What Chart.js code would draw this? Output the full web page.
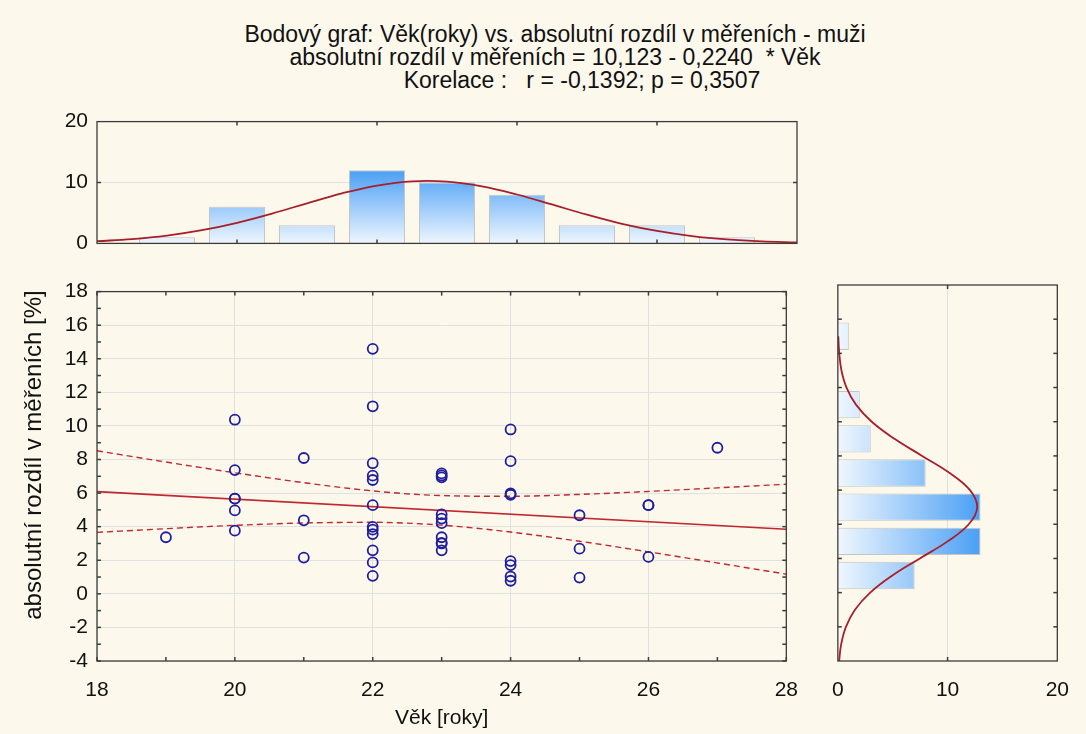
<!DOCTYPE html>
<html><head><meta charset="utf-8">
<script src="https://cdn.jsdelivr.net/npm/chart.js@4/dist/chart.umd.min.js"></script>
<style>
html,body{margin:0;padding:0}
body{background:#fdf8ec;width:1086px;height:734px;overflow:hidden;position:relative;font-family:"Liberation Sans",Arial,sans-serif}
.t{position:absolute;width:1000px;text-align:center;font-size:23px;line-height:23px;color:#111;white-space:pre}
.yt{position:absolute;left:33px;top:455px;width:400px;margin-left:-200px;margin-top:-13px;text-align:center;font-size:24px;line-height:26px;color:#111;white-space:pre;transform:rotate(-90deg);transform-origin:50% 50%}
canvas{position:absolute}
</style></head><body>
<div class="t" style="left:55px;top:23px">Bodový graf: Věk(roky) vs. absolutní rozdíl v měřeních - muži</div>
<div class="t" style="left:55px;top:46px">absolutní rozdíl v měřeních = 10,123 - 0,2240  * Věk</div>
<div class="t" style="left:82px;top:69px">Korelace :   r = -0,1392; p = 0,3507</div>
<canvas id="top" width="815" height="165" style="left:0;top:100px"></canvas>
<canvas id="main" width="815" height="464" style="left:0;top:270px"></canvas>
<canvas id="right" width="271" height="464" style="left:815px;top:270px"></canvas>
<div class="yt">absolutní rozdíl v měřeních [%]</div>
<script>
// ---- data ----
const ages  = [19, 20,20,20,20,20,20, 21,21,21,
  22,22,22,22,22,22,22,22,22,22,22,22,
  23,23,23,23,23,23,23,23,23,23,
  24,24,24,24,24,24,24,24, 25,25,25, 26,26,26, 27];
const diffs = [3.37, 10.37,7.37,5.67,5.67,4.97,3.76, 8.09,4.38,2.16,
  14.59,11.17,7.78,7.04,6.78,5.28,3.99,3.82,3.56,2.59,1.87,1.07,
  7.17,7.05,6.94,4.73,4.48,4.21,3.37,3.04,3.00,2.59,
  9.79,7.90,5.98,5.90,1.95,1.71,1.03,0.78, 4.68,2.69,0.97, 5.28,5.28,2.20, 8.70];

const regX = [18, 28];
const regY = [6.09, 3.85];
const ciX     = [18, 19, 20, 21, 22, 23, 24, 25, 26, 27, 28];
const ciUpper = [8.52, 7.85, 7.21, 6.62, 6.13, 5.85, 5.81, 5.92, 6.10, 6.31, 6.53];
const ciLower = [3.66, 3.88, 4.08, 4.22, 4.26, 4.09, 3.68, 3.13, 2.50, 1.84, 1.17];

const ageBins   = [19, 20, 21, 22, 23, 24, 25, 26, 27];
const ageCounts = [1, 6, 3, 12, 10, 8, 3, 3, 1];
const ageCurveX = [18,18.5,19,19.5,20,20.5,21,21.5,22,22.5,23,23.5,24,24.5,25,25.5,26,26.5,27,27.5,28];
const ageCurveY = [0.36,0.71,1.29,2.17,3.39,4.90,6.59,8.22,9.50,10.20,10.15,9.37,8.03,6.39,4.71,3.22,2.05,1.21,0.66,0.33,0.16];

const diffBins   = [1, 3, 5, 7, 9, 11, 13, 15];
const diffCounts = [7, 13, 13, 8, 3, 2, 0, 1];
const diffCurveY = [-4,-3,-2,-1,0,1,2,3,4,5,6,7,8,9,10,11,12,13,14,15];
const diffCurveX = [0.12,0.31,0.74,1.56,2.95,4.97,7.47,10.0,11.93,12.70,12.04,10.19,7.68,5.16,3.09,1.65,0.79,0.33,0.13,0.04];

// ---- styles ----
Chart.defaults.font.family = '"Liberation Sans", Arial, sans-serif';
Chart.defaults.color = '#111';
const FONT = {size: 21};
const GRID = '#e1e1e1';
const FRAME = '#3c3c3c';
const DOT = '#1f1f9e';
const RED = '#c0272e';
const CURVE = '#a81f2b';

const framePlugin = {
  id: 'frame',
  afterDatasetsDraw(chart, args, opts) {
    const {ctx, chartArea: a} = chart;
    ctx.save();
    ctx.strokeStyle = FRAME;
    ctx.lineWidth = 1.3;
    ctx.strokeRect(a.left, a.top, a.right - a.left, a.bottom - a.top);
    ctx.lineWidth = 1.5;
    (opts.marks || []).forEach(m => {
      const s = chart.scales[m.scale];
      m.values.forEach(v => {
        const p = s.getPixelForValue(v);
        m.sides.forEach(side => {
          ctx.beginPath();
          if (side === 'bottom') { ctx.moveTo(p, a.bottom); ctx.lineTo(p, a.bottom - m.len); }
          if (side === 'top') { ctx.moveTo(p, a.top); ctx.lineTo(p, a.top + m.len); }
          if (side === 'left') { ctx.moveTo(a.left, p); ctx.lineTo(a.left + m.len, p); }
          if (side === 'right') { ctx.moveTo(a.right, p); ctx.lineTo(a.right - m.len, p); }
          ctx.stroke();
        });
      });
    });
    ctx.restore();
  }
};

const pts = (xs, ys) => xs.map((x, i) => ({x: x, y: ys[i]}));
const evenGrid = c => (Math.round(c.tick.value) % 2 === 0 ? GRID : 'rgba(0,0,0,0)');
const evenLabel = v => (Math.round(v) % 2 === 0 ? String(v) : '');
const ints = (a, b) => { const r = []; for (let i = a; i <= b; i++) r.push(i); return r; };

// ---- main scatter ----
new Chart(document.getElementById('main'), {
  data: {
    datasets: [
      {type: 'scatter', data: pts(ages, diffs), pointRadius: 5, pointBorderWidth: 1.8,
       borderColor: DOT, backgroundColor: 'rgba(0,0,0,0)', pointBackgroundColor: 'rgba(0,0,0,0)', order: 0},
      {type: 'line', data: pts(regX, regY), borderColor: RED, borderWidth: 1.6, pointRadius: 0, order: 1},
      {type: 'line', data: pts(ciX, ciUpper), borderColor: RED, borderWidth: 1.4, borderDash: [6, 4],
       pointRadius: 0, tension: 0.4, cubicInterpolationMode: 'monotone', order: 1},
      {type: 'line', data: pts(ciX, ciLower), borderColor: RED, borderWidth: 1.4, borderDash: [6, 4],
       pointRadius: 0, tension: 0.4, cubicInterpolationMode: 'monotone', order: 1}
    ]
  },
  options: {
    responsive: false, animation: false,
    layout: {padding: {top: 15, right: 18, left: 0, bottom: 0}},
    plugins: {legend: {display: false}, tooltip: {enabled: false},
      frame: {marks: [
        {scale: 'x', values: ints(18, 28), sides: ['bottom', 'top'], len: 4},
        {scale: 'y', values: ints(-4, 18), sides: ['left', 'right'], len: 4}
      ]}},
    scales: {
      x: {type: 'linear', min: 18, max: 28, afterFit: s => { s.height = 73; },
        border: {display: false},
        grid: {color: evenGrid, drawTicks: false},
        ticks: {stepSize: 1, font: FONT, padding: 17, callback: evenLabel, maxRotation: 0, autoSkip: false},
        title: {display: true, text: 'Věk [roky]', font: {size: 21}, padding: {top: 0, bottom: 3}}},
      y: {type: 'linear', min: -4, max: 18, afterFit: s => { s.width = 97; },
        border: {display: false},
        grid: {color: evenGrid, drawTicks: false},
        ticks: {stepSize: 1, font: FONT, padding: 9, callback: evenLabel, autoSkip: false}}
    }
  },
  plugins: [framePlugin]
});

// ---- top histogram ----
const topGrad = c => {
  const ch = c.chart, a = ch.chartArea;
  if (!a) return '#9cc8f5';
  const ys = ch.scales.y;
  const g = ch.ctx.createLinearGradient(0, ys.getPixelForValue(0), 0, ys.getPixelForValue(12));
  g.addColorStop(0, '#eef6fe');
  g.addColorStop(1, '#4a9ff5');
  return g;
};
new Chart(document.getElementById('top'), {
  data: {
    datasets: [
      {type: 'line', data: pts(ageCurveX, ageCurveY), borderColor: CURVE, borderWidth: 1.8, pointRadius: 0, tension: 0.4, order: 0},
      {type: 'bar', data: pts(ageBins, ageCounts), backgroundColor: topGrad,
       borderColor: 'rgba(70,80,100,0.3)', borderWidth: 1, barPercentage: 0.8, categoryPercentage: 1, order: 1}
    ]
  },
  options: {
    responsive: false, animation: false,
    layout: {padding: {top: 20, right: 18, left: 0, bottom: 21}},
    plugins: {legend: {display: false}, tooltip: {enabled: false},
      frame: {marks: [
        {scale: 'x', values: [20, 22, 24, 26], sides: ['bottom', 'top'], len: 4},
        {scale: 'y', values: [10], sides: ['left', 'right'], len: 4}
      ]}},
    scales: {
      x: {type: 'linear', min: 18, max: 28, display: false, offset: false},
      y: {type: 'linear', min: 0, max: 20, afterFit: s => { s.width = 97; },
        border: {display: false},
        grid: {color: c => (c.tick.value === 10 ? GRID : 'rgba(0,0,0,0)'), drawTicks: false},
        ticks: {stepSize: 10, font: FONT, padding: 9}}
    }
  },
  plugins: [framePlugin]
});

// ---- right histogram ----
const rightGrad = c => {
  const ch = c.chart, a = ch.chartArea;
  if (!a) return '#9cc8f5';
  const xs = ch.scales.x;
  const g = ch.ctx.createLinearGradient(xs.getPixelForValue(0), 0, xs.getPixelForValue(13), 0);
  g.addColorStop(0, '#f0f7fe');
  g.addColorStop(1, '#4a9ff5');
  return g;
};
new Chart(document.getElementById('right'), {
  data: {
    datasets: [
      {type: 'line', indexAxis: 'y', data: pts(diffCurveX, diffCurveY), borderColor: CURVE, borderWidth: 1.8,
       pointRadius: 0, tension: 0.4, order: 0},
      {type: 'bar', indexAxis: 'y', data: pts(diffCounts, diffBins), backgroundColor: rightGrad,
       borderColor: 'rgba(70,80,100,0.3)', borderWidth: 1, barPercentage: 0.8, categoryPercentage: 1, order: 1}
    ]
  },
  options: {
    responsive: false, animation: false, indexAxis: 'y',
    layout: {padding: {top: 15, right: 17, left: 21, bottom: 0}},
    plugins: {legend: {display: false}, tooltip: {enabled: false},
      frame: {marks: [
        {scale: 'x', values: [10], sides: ['bottom', 'top'], len: 4},
        {scale: 'y', values: [-2, 0, 2, 4, 6, 8, 10, 12, 14, 16], sides: ['left', 'right'], len: 4}
      ]}},
    scales: {
      x: {type: 'linear', min: 0, max: 20, afterFit: s => { s.height = 73; },
        border: {display: false},
        grid: {color: c => (c.tick.value === 10 ? GRID : 'rgba(0,0,0,0)'), drawTicks: false},
        ticks: {stepSize: 10, font: FONT, padding: 17, maxRotation: 0}},
      y: {type: 'linear', min: -4, max: 18, display: false, offset: false}
    }
  },
  plugins: [framePlugin]
});
</script>
</body></html>
